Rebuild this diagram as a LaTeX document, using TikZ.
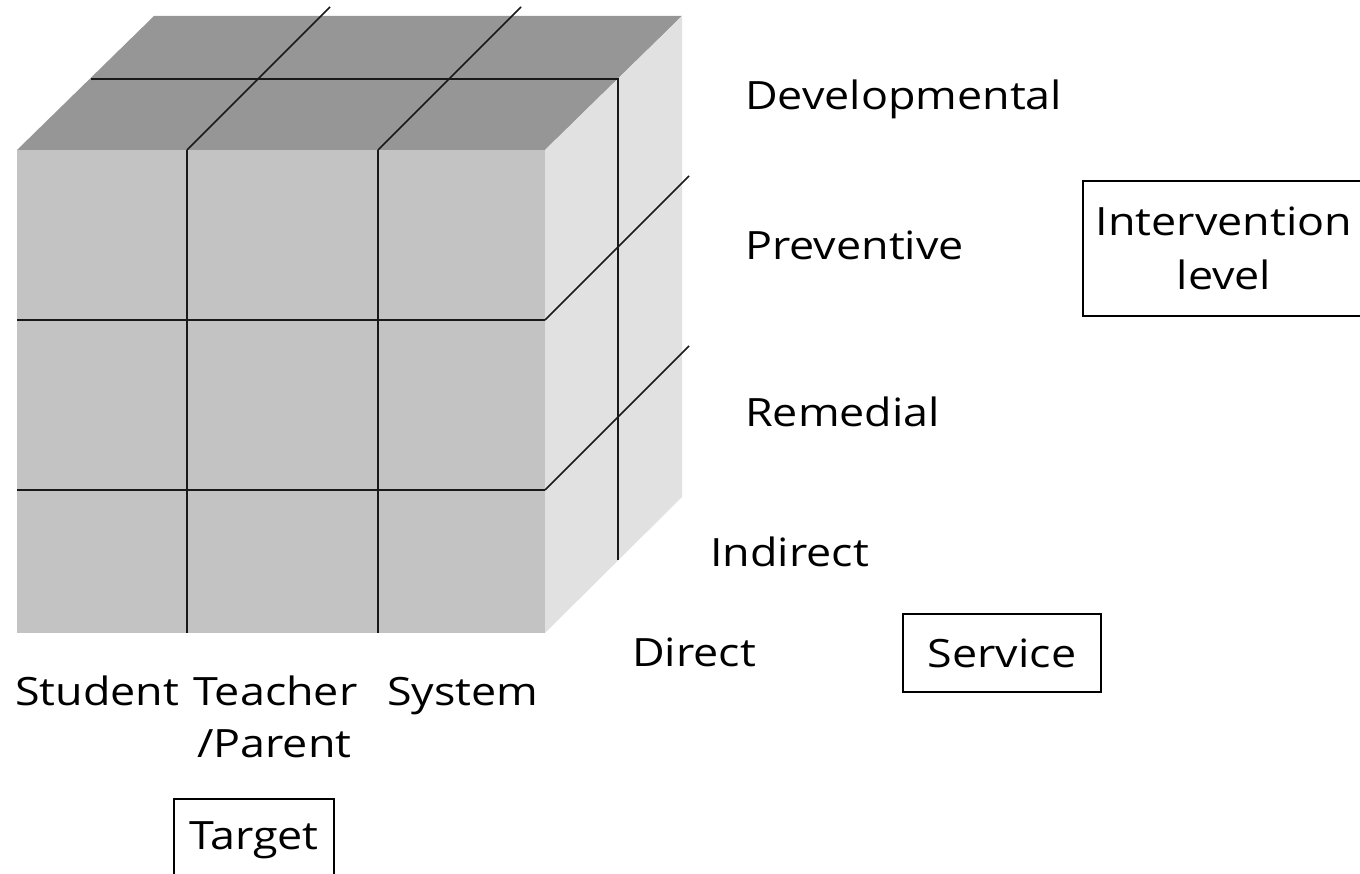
\documentclass[tikz,border=0pt]{standalone}
\usepackage{fontspec}
\setmainfont[FakeStretch=1.15]{Open Sans}
\begin{document}
\begin{tikzpicture}[x=1pt,y=-1pt,
  lbl/.style={anchor=base west,inner sep=0pt,font=\fontsize{39}{46}\selectfont},
  boxlbl/.style={draw=black,line width=1.2pt,inner sep=0pt,align=center,font=\fontsize{39}{54}\selectfont},
  gridline/.style={draw=black!90,line width=1.6pt},
]
\useasboundingbox (0,0) rectangle (1360,874);
\definecolor{topc}{HTML}{969696}
\definecolor{frontc}{HTML}{C3C3C3}
\definecolor{sidec}{HTML}{E1E1E1}
% cube faces
\fill[topc] (17,150) -- (545,150) -- (682,16) -- (154,16) -- cycle;
\fill[frontc] (17,150) rectangle (545,633);
\fill[sidec] (545,150) -- (682,16) -- (682,497) -- (545,633) -- cycle;
% grid lines on the front face
\draw[gridline] (187,150) -- (187,633);
\draw[gridline] (378,150) -- (378,633);
\draw[gridline] (17,320) -- (545,320);
\draw[gridline] (17,490) -- (545,490);
% grid lines on the top face
\draw[gridline] (187,150) -- (330,7);
\draw[gridline] (378,150) -- (521,7);
\draw[gridline] (91,79) -- (618,79) -- (618,560);
% grid lines on the right face
\draw[gridline] (545,320) -- (689,176);
\draw[gridline] (545,490) -- (689,346);
% labels
\node[lbl] (dev) at (745,110) {Developmental};
\node[lbl] (prev) at (745,260) {Preventive};
\node[lbl] (rem) at (745,427) {Remedial};
\node[lbl] (ind) at (710,566) {Indirect};
\node[lbl] (dir) at (632,666) {Direct};
\node[lbl] (stu) at (15,705) {Student};
\node[lbl] (tea) at (193,705) {Teacher};
\node[lbl] (par) at (197,757) {/Parent};
\node[lbl] (sys) at (387,705) {System};
% boxes
\node[boxlbl,minimum width=198pt,minimum height=78pt] (serv) at (1002,653) {Service};
\node[boxlbl,minimum width=282pt,minimum height=135pt] (interv) at (1224,248.5) {Intervention\\level};
\node[boxlbl,minimum width=160pt,minimum height=100pt] (targ) at (254,849) {};
\node[anchor=base,inner sep=0pt,font=\fontsize{39}{46}\selectfont] (targt) at (254,849) {Target};
\end{tikzpicture}
\end{document}
